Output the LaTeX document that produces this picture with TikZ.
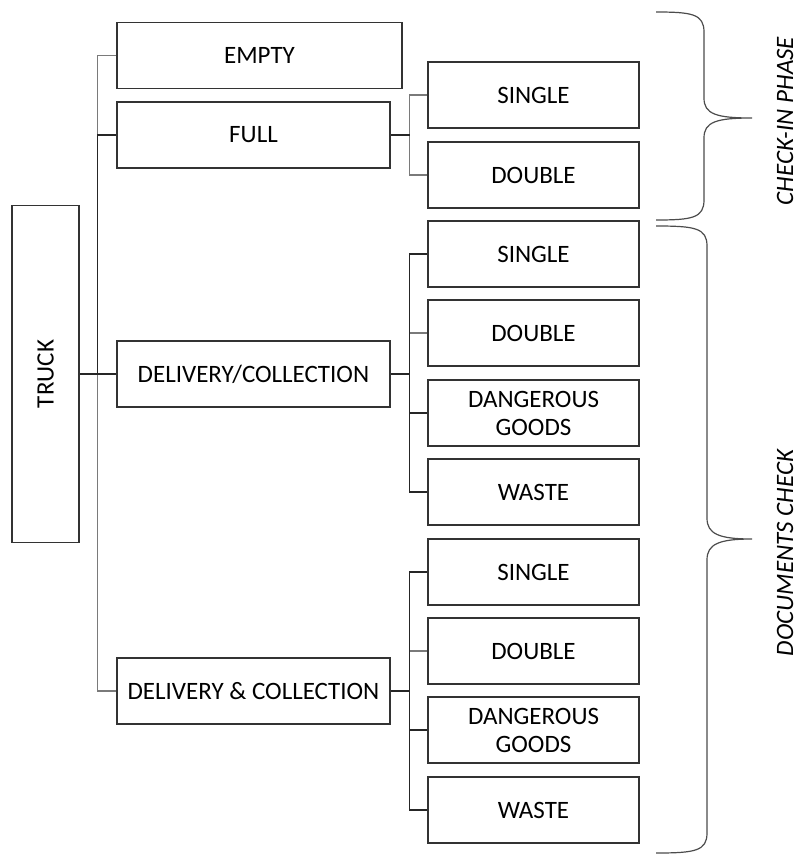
\documentclass[tikz,border=0pt]{standalone}
\usepackage{fontspec}
\setmainfont{Carlito}

\begin{document}
\begin{tikzpicture}[x=1pt, y=-1pt,
  box/.style={draw=black!80, line width=1.2pt, minimum height=66pt, inner sep=0pt, align=center, font=\fontsize{25}{28}\selectfont},
  big/.style={box, minimum width=273pt}, small/.style={box, minimum width=211pt},
  blk/.style={draw=black!85, line width=1.4pt}, gry/.style={draw=black!52, line width=1.4pt},
  brc/.style={draw=black!70, line width=1.2pt}, lbl/.style={rotate=90, font=\fontsize{25}{28}\selectfont\itshape}]
  \useasboundingbox (0,0) rectangle (799,854);
  \node[box, rotate=90, minimum width=337pt, minimum height=67pt] (truck) at (45.5,374) {TRUCK};
  \node[box, minimum width=285pt] (empty) at (259.5,55.5) {EMPTY};
  \node[big] (full) at (253.5,135) {FULL};
  \node[big] (dc) at (253.5,374) {DELIVERY/COLLECTION};
  \node[big] (dnc) at (253.5,691) {DELIVERY \& COLLECTION};
  \foreach \n/\y/\t in {fs/95/SINGLE, fd/175/DOUBLE, as/254/SINGLE, ad/333/DOUBLE, ag/413/{DANGEROUS\\GOODS}, aw/492/WASTE,
      bs/572/SINGLE, bd/651/DOUBLE, bg/730/{DANGEROUS\\GOODS}, bw/810/WASTE}
    \node[small] (\n) at (533.5,\y) {\t};
  % first level
  \draw[gry] (truck.south) -- ++(18,0) |- (empty.west);
  \draw[gry] (truck.south) -- ++(18,0) |- (dnc.west);
  \draw[blk] (truck.south) -- ++(18,0) |- (full.west);
  \draw[blk] (truck.south) -- (dc.west);
  % second level
  \foreach \c in {fs,fd} \draw[gry] (full.east) -- ++(19,0) |- (\c.west);
  \draw[blk] (full.east) -- ++(19,0);
  \draw[gry] (dc.east) -- ++(19,0) |- (ad.west);
  \foreach \c in {as,ag,aw} \draw[blk] (dc.east) -- ++(19,0) |- (\c.west);
  \draw[gry] (dnc.east) -- ++(19,0) |- (bd.west);
  \foreach \c in {bs,bg,bw} \draw[blk] (dnc.east) -- ++(19,0) |- (\c.west);
  % braces
  \draw[brc] (656,12) .. controls (692,12) and (704,14) .. (704,32) -- (704,98) .. controls (704,114) and (716,118) .. (752,118)
    .. controls (716,118) and (704,122) .. (704,138) -- (704,200) .. controls (704,218) and (692,220) .. (656,220);
  \draw[brc] (656,226) .. controls (695,226) and (707,228) .. (707,246) -- (707,518) .. controls (707,534) and (719,539) .. (752,539)
    .. controls (719,539) and (707,544) .. (707,560) -- (707,833) .. controls (707,851) and (695,853) .. (656,853);
  \node[lbl] (cip) at (785,121) {CHECK-IN PHASE};
  \node[lbl] (doc) at (785,553) {DOCUMENTS CHECK};
\end{tikzpicture}
\end{document}
